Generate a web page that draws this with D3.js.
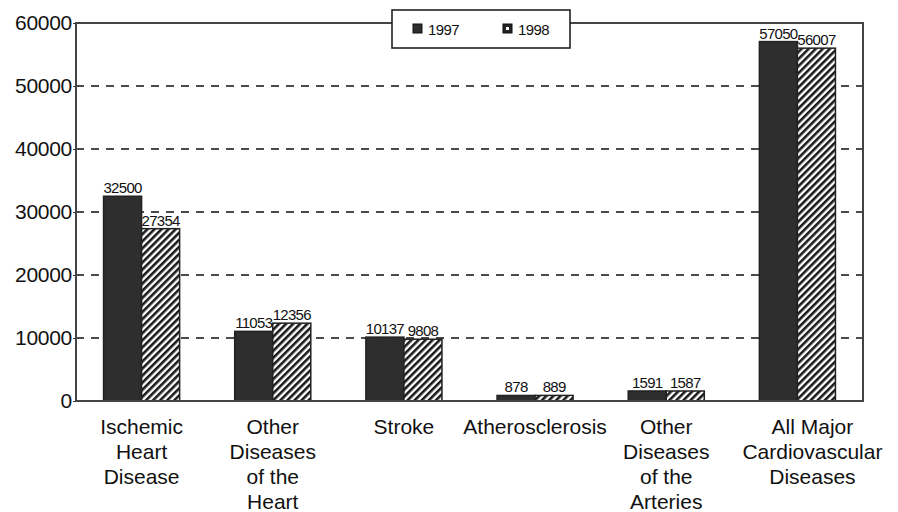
<!DOCTYPE html>
<html>
<head>
<meta charset="utf-8">
<script src="https://cdn.jsdelivr.net/npm/d3@7"></script>
<style>
  body { margin: 0; background: #fff; }
  svg { font-family: "Liberation Sans", Arial, sans-serif; }
</style>
</head>
<body>
<svg id="chart" width="898" height="512"></svg>
<script>
// chart data
const categories = [
    ["Ischemic", "Heart", "Disease"],
    ["Other", "Diseases", "of the", "Heart"],
    ["Stroke"],
    ["Atherosclerosis"],
    ["Other", "Diseases", "of the", "Arteries"],
    ["All Major", "Cardiovascular", "Diseases"]
];
const seriesNames = ["1997", "1998"];
const values1997 = [32500, 11053, 10137, 878, 1591, 57050];
const values1998 = [27354, 12356, 9808, 889, 1587, 56007];
const yTicks = [0, 10000, 20000, 30000, 40000, 50000, 60000];

let svg = d3.select("#chart");

let margin = { left: 76, right: 35, top: 23, bottom: 111 };
let width = 898 - margin.left - margin.right,
    height = 512 - margin.top - margin.bottom;

// hatch pattern for 1998
let defs = svg.append("defs");
let pat = defs.append("pattern")
    .attr("id", "hatch")
    .attr("patternUnits", "userSpaceOnUse")
    .attr("width", 5)
    .attr("height", 5)
    .attr("patternTransform", "rotate(45)");
pat.append("rect").attr("width", 5).attr("height", 5).attr("fill", "#fff");
pat.append("rect").attr("width", 2.6).attr("height", 5).attr("fill", "#1a1a1a");

let g = svg.append("g").attr("transform", `translate(${margin.left},${margin.top})`);

let x = d3.scaleBand()
    .domain(d3.range(categories.length))
    .range([0, width])
    .paddingInner(0.42)
    .paddingOuter(0.21);

let xSub = d3.scaleBand()
    .domain(seriesNames)
    .range([0, x.bandwidth()]);

let y = d3.scaleLinear()
    .domain([0, 60000])
    .range([height, 0]);

// dashed gridlines
g.append("g")
    .selectAll("line")
    .data(yTicks.filter(t => t > 0 && t < 60000))
    .enter()
    .append("line")
    .attr("x1", 0)
    .attr("x2", width)
    .attr("y1", d => y(d))
    .attr("y2", d => y(d))
    .attr("stroke", "#111")
    .attr("stroke-width", 1.6)
    .attr("stroke-dasharray", "8,7");

// y axis labels
let yAxis = d3.axisLeft(y).tickValues(yTicks).tickSize(3).tickFormat(d3.format("d"));
let ya = g.append("g").call(yAxis);
ya.select(".domain").remove();
ya.selectAll("line").attr("stroke", "#333");
ya.selectAll("text")
    .attr("font-size", 21)
    .attr("font-family", "Liberation Sans, Arial, sans-serif")
    .attr("fill", "#111")
    .attr("letter-spacing", -0.3)
    .attr("x", -4)
    .attr("dy", "0.3em");

// bars
let series = [
    { name: "1997", values: values1997, fill: "#2e2e2e" },
    { name: "1998", values: values1998, fill: "url(#hatch)" }
];

series.forEach(s => {
    let sg = g.append("g");
    sg.selectAll("rect")
        .data(s.values)
        .enter()
        .append("rect")
        .attr("x", (d, i) => x(i) + xSub(s.name))
        .attr("y", d => y(d))
        .attr("width", xSub.bandwidth())
        .attr("height", d => height - y(d))
        .attr("fill", s.fill)
        .attr("stroke", "#222")
        .attr("stroke-width", 1.5);

    sg.selectAll("text")
        .data(s.values)
        .enter()
        .append("text")
        .attr("x", (d, i) => x(i) + xSub(s.name) + xSub.bandwidth() / 2)
        .attr("y", d => y(d) - 3)
        .attr("text-anchor", "middle")
        .attr("font-size", 15)
        .attr("letter-spacing", -0.7)
        .attr("fill", "#111")
        .text(d => d);
});

// frame
g.append("rect")
    .attr("width", width)
    .attr("height", height)
    .attr("fill", "none")
    .attr("stroke", "#444")
    .attr("stroke-width", 2);

// category labels (last one sits a bit right of its bars in the original)
let cat = g.append("g").attr("transform", `translate(0,${height})`);
categories.forEach((lines, i) => {
    let shift = i === categories.length - 1 ? 15 : 0;
    let t = cat.append("text")
        .attr("text-anchor", "middle")
        .attr("font-size", 21)
        .attr("fill", "#111")
        .attr("transform", `translate(${x(i) + x.bandwidth() / 2 + shift},0)`);
    lines.forEach((ln, j) => {
        t.append("tspan").attr("x", 0).attr("y", 32.5 + j * 25).text(ln);
    });
});

// legend
let lg = svg.append("g").attr("transform", "translate(392,10)");
lg.append("rect")
    .attr("width", 178)
    .attr("height", 38)
    .attr("fill", "#fff")
    .attr("stroke", "#222")
    .attr("stroke-width", 1.6);
let items = lg.selectAll("g.item")
    .data(series)
    .enter()
    .append("g")
    .attr("transform", (d, i) => `translate(${21 + i * 90},14)`);
items.append("rect")
    .attr("width", 9)
    .attr("height", 9)
    .attr("fill", d => d.name === "1997" ? "#2e2e2e" : "#222")
    .attr("stroke", "#111");
items.filter(d => d.name === "1998").append("rect")
    .attr("x", 3).attr("y", 3).attr("width", 3).attr("height", 3).attr("fill", "#fff");
items.append("text")
    .attr("x", 15)
    .attr("y", 11)
    .attr("font-size", 15)
    .attr("letter-spacing", -0.6)
    .attr("fill", "#111")
    .text(d => d.name);
</script>
</body>
</html>
